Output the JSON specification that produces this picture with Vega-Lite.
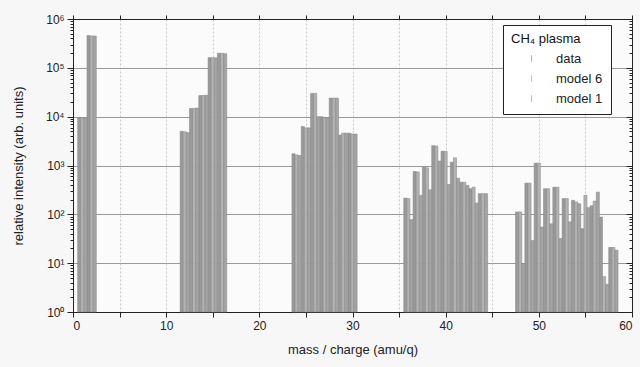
{
  "$schema": "https://vega.github.io/schema/vega-lite/v6.json",
  "width": 559,
  "height": 293,
  "autosize": "none",
  "padding": {"left": 73, "top": 19, "right": 8, "bottom": 55},
  "background": "#f7f7f7",
  "config": {
    "font": "Liberation Sans",
    "view": {"stroke": "#222", "strokeWidth": 1, "fill": "#fbfbfb"},
    "axis": {"labelFont": "Liberation Sans", "titleFont": "Liberation Sans", "labelColor": "#222", "titleColor": "#222", "titleFontWeight": "normal", "domainColor": "#222", "tickColor": "#222"}
  },
  "data": {"values": [
    {"mass": 1, "series": "data", "value": 9500}, {"mass": 1, "series": "model 6", "value": 9600}, {"mass": 1, "series": "model 1", "value": 9400},
    {"mass": 2, "series": "data", "value": 460000}, {"mass": 2, "series": "model 6", "value": 450000}, {"mass": 2, "series": "model 1", "value": 450000},
    {"mass": 12, "series": "data", "value": 5000}, {"mass": 12, "series": "model 6", "value": 4900}, {"mass": 12, "series": "model 1", "value": 4700},
    {"mass": 13, "series": "data", "value": 14700}, {"mass": 13, "series": "model 6", "value": 14800}, {"mass": 13, "series": "model 1", "value": 15000},
    {"mass": 14, "series": "data", "value": 27000}, {"mass": 14, "series": "model 6", "value": 27200}, {"mass": 14, "series": "model 1", "value": 27500},
    {"mass": 15, "series": "data", "value": 162000}, {"mass": 15, "series": "model 6", "value": 161000}, {"mass": 15, "series": "model 1", "value": 160000},
    {"mass": 16, "series": "data", "value": 200000}, {"mass": 16, "series": "model 6", "value": 198000}, {"mass": 16, "series": "model 1", "value": 195000},
    {"mass": 24, "series": "data", "value": 1740}, {"mass": 24, "series": "model 6", "value": 1650}, {"mass": 24, "series": "model 1", "value": 1600},
    {"mass": 25, "series": "data", "value": 6300}, {"mass": 25, "series": "model 6", "value": 5900}, {"mass": 25, "series": "model 1", "value": 5900},
    {"mass": 26, "series": "data", "value": 30000}, {"mass": 26, "series": "model 6", "value": 30000}, {"mass": 26, "series": "model 1", "value": 10000},
    {"mass": 27, "series": "data", "value": 10000}, {"mass": 27, "series": "model 6", "value": 9600}, {"mass": 27, "series": "model 1", "value": 9600},
    {"mass": 28, "series": "data", "value": 24000}, {"mass": 28, "series": "model 6", "value": 24000}, {"mass": 28, "series": "model 1", "value": 24000},
    {"mass": 29, "series": "data", "value": 4200}, {"mass": 29, "series": "model 6", "value": 4600}, {"mass": 29, "series": "model 1", "value": 4600},
    {"mass": 30, "series": "data", "value": 4600}, {"mass": 30, "series": "model 6", "value": 4400}, {"mass": 30, "series": "model 1", "value": 4400},
    {"mass": 36, "series": "data", "value": 215}, {"mass": 36, "series": "model 6", "value": 210}, {"mass": 36, "series": "model 1", "value": 78},
    {"mass": 37, "series": "data", "value": 755}, {"mass": 37, "series": "model 6", "value": 740}, {"mass": 37, "series": "model 1", "value": 245},
    {"mass": 38, "series": "data", "value": 925}, {"mass": 38, "series": "model 6", "value": 900}, {"mass": 38, "series": "model 1", "value": 318},
    {"mass": 39, "series": "data", "value": 2550}, {"mass": 39, "series": "model 6", "value": 2500}, {"mass": 39, "series": "model 1", "value": 1230},
    {"mass": 40, "series": "data", "value": 1960}, {"mass": 40, "series": "model 6", "value": 1950}, {"mass": 40, "series": "model 1", "value": 410},
    {"mass": 41, "series": "data", "value": 1170}, {"mass": 41, "series": "model 6", "value": 1440}, {"mass": 41, "series": "model 1", "value": 550},
    {"mass": 42, "series": "data", "value": 455}, {"mass": 42, "series": "model 6", "value": 455}, {"mass": 42, "series": "model 1", "value": 390},
    {"mass": 43, "series": "data", "value": 334}, {"mass": 43, "series": "model 6", "value": 360}, {"mass": 43, "series": "model 1", "value": 170},
    {"mass": 44, "series": "data", "value": 265}, {"mass": 44, "series": "model 6", "value": 265}, {"mass": 44, "series": "model 1", "value": 265},
    {"mass": 48, "series": "data", "value": 112}, {"mass": 48, "series": "model 6", "value": 112}, {"mass": 48, "series": "model 1", "value": 9.8},
    {"mass": 49, "series": "data", "value": 435}, {"mass": 49, "series": "model 6", "value": 435}, {"mass": 49, "series": "model 1", "value": 29},
    {"mass": 50, "series": "data", "value": 1120}, {"mass": 50, "series": "model 6", "value": 1120}, {"mass": 50, "series": "model 1", "value": 55},
    {"mass": 51, "series": "data", "value": 335}, {"mass": 51, "series": "model 6", "value": 335}, {"mass": 51, "series": "model 1", "value": 64},
    {"mass": 52, "series": "data", "value": 360}, {"mass": 52, "series": "model 6", "value": 360}, {"mass": 52, "series": "model 1", "value": 32},
    {"mass": 53, "series": "data", "value": 210}, {"mass": 53, "series": "model 6", "value": 210}, {"mass": 53, "series": "model 1", "value": 70},
    {"mass": 54, "series": "data", "value": 194}, {"mass": 54, "series": "model 6", "value": 180}, {"mass": 54, "series": "model 1", "value": 165},
    {"mass": 55, "series": "data", "value": 51}, {"mass": 55, "series": "model 6", "value": 245}, {"mass": 55, "series": "model 1", "value": 137},
    {"mass": 56, "series": "data", "value": 150}, {"mass": 56, "series": "model 6", "value": 187}, {"mass": 56, "series": "model 1", "value": 285},
    {"mass": 57, "series": "data", "value": 88}, {"mass": 57, "series": "model 6", "value": 5.3}, {"mass": 57, "series": "model 1", "value": 3.7},
    {"mass": 58, "series": "data", "value": 21}, {"mass": 58, "series": "model 6", "value": 21}, {"mass": 58, "series": "model 1", "value": 18.5}
  ]},
  "resolve": {"axis": {"x": "independent", "y": "independent"}},
  "layer": [
    {
      "transform": [{"filter": "datum.series === 'data'"}],
      "mark": {"type": "bar", "width": 3.11, "xOffset": -3.11, "stroke": "#858585", "strokeWidth": 0.5},
      "encoding": {
        "x": {"field": "mass", "type": "quantitative", "scale": {"domain": [0, 60], "nice": false, "padding": 0},
          "axis": {"orient": "bottom", "title": "mass / charge (amu/q)", "titleFontSize": 13, "titlePadding": 12, "labelFontSize": 12, "values": [0,5,10,15,20,25,30,35,40,45,50,55,60], "labelExpr": "datum.value % 10 === 0 ? datum.label : ''", "tickSize": 5, "labelPadding": 3, "grid": true, "gridColor": "#bdbdbd", "gridDash": [2, 2], "gridWidth": 0.8}},
        "y": {"field": "value", "type": "quantitative", "scale": {"type": "log", "domain": [1, 1000000], "nice": false},
          "axis": {"orient": "left", "title": "relative intensity (arb. units)", "titleFontSize": 13, "titlePadding": 20, "labelFontSize": 12, "labelPadding": 3,
            "values": [1,2,3,4,5,6,7,8,9,10,20,30,40,50,60,70,80,90,100,200,300,400,500,600,700,800,900,1000,2000,3000,4000,5000,6000,7000,8000,9000,10000,20000,30000,40000,50000,60000,70000,80000,90000,100000,200000,300000,400000,500000,600000,700000,800000,900000,1000000],
            "labelExpr": "abs(log(datum.value)/LN10 - round(log(datum.value)/LN10)) < 0.001 ? '10' + ['⁰','¹','²','³','⁴','⁵','⁶'][round(log(datum.value)/LN10)] : ''",
            "tickSize": {"condition": {"test": "abs(log(datum.value)/LN10 - round(log(datum.value)/LN10)) < 0.001", "value": 6}, "value": 3},
            "grid": true, "gridColor": "#9a9a9a", "gridWidth": 1,
            "gridOpacity": {"condition": {"test": "abs(log(datum.value)/LN10 - round(log(datum.value)/LN10)) < 0.001", "value": 1}, "value": 0}}},
        "y2": {"datum": 1},
        "color": {"field": "series", "type": "nominal", "scale": {"domain": ["data", "model 6", "model 1"], "range": ["#9a9a9a", "#b2b2b2", "#a4a4a4"]},
          "legend": {"orient": "none", "legendX": 430, "legendY": 6, "title": "CH₄ plasma", "titleFontSize": 13, "titleFontWeight": "normal", "titleColor": "#111", "titleFont": "Liberation Sans", "titlePadding": 6,
            "labelFontSize": 13, "labelColor": "#222", "labelFont": "Liberation Sans", "padding": 8, "strokeColor": "#222", "fillColor": "#ffffff",
            "symbolType": "M-0.12,-1L0.12,-1L0.12,1L-0.12,1Z", "symbolSize": 40, "symbolOffset": 14, "labelOffset": 18, "rowPadding": 6, "symbolStrokeWidth": 0}}
      }
    },
    {
      "transform": [{"filter": "datum.series === 'model 6'"}],
      "mark": {"type": "bar", "width": 3.11, "xOffset": 0, "stroke": "#858585", "strokeWidth": 0.5},
      "encoding": {
        "x": {"field": "mass", "type": "quantitative", "axis": {"orient": "top", "title": null, "labels": false, "values": [0,5,10,15,20,25,30,35,40,45,50,55,60], "tickSize": 4, "grid": false}},
        "y": {"field": "value", "type": "quantitative",
          "axis": {"orient": "right", "title": null, "labels": false, "grid": false,
            "values": [1,2,3,4,5,6,7,8,9,10,20,30,40,50,60,70,80,90,100,200,300,400,500,600,700,800,900,1000,2000,3000,4000,5000,6000,7000,8000,9000,10000,20000,30000,40000,50000,60000,70000,80000,90000,100000,200000,300000,400000,500000,600000,700000,800000,900000,1000000],
            "tickSize": {"condition": {"test": "abs(log(datum.value)/LN10 - round(log(datum.value)/LN10)) < 0.001", "value": -6}, "value": -3}}},
        "y2": {"datum": 1},
        "color": {"field": "series", "type": "nominal"}
      }
    },
    {
      "transform": [{"filter": "datum.series === 'model 1'"}],
      "mark": {"type": "bar", "width": 3.11, "xOffset": 3.11, "stroke": "#858585", "strokeWidth": 0.5},
      "encoding": {
        "x": {"field": "mass", "type": "quantitative", "axis": null},
        "y": {"field": "value", "type": "quantitative", "axis": null},
        "y2": {"datum": 1},
        "color": {"field": "series", "type": "nominal"}
      }
    }
  ]
}
